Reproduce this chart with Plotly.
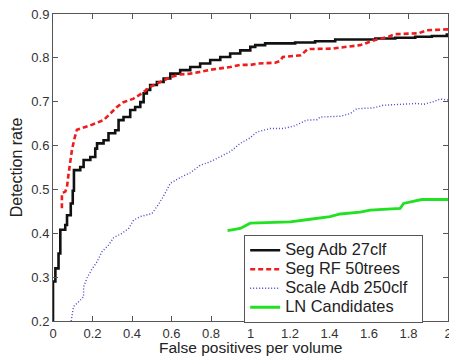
import plotly.graph_objects as go

# ---- data ----
seg_adb_x = [0, 0, 0.012, 0.028, 0.037, 0.062, 0.071, 0.09, 0.1, 0.106, 0.138, 0.155, 0.189, 0.214,
             0.223, 0.256, 0.281, 0.315, 0.332, 0.357, 0.391, 0.416, 0.442, 0.459, 0.475, 0.492, 0.526,
             0.56, 0.594, 0.644, 0.695, 0.745, 0.796, 0.847, 0.897, 0.948, 0.999, 1.024, 1.074, 1.226,
             1.327, 1.429, 1.632, 1.733, 1.834, 1.918, 1.994, 2.0]
seg_adb_y = [0.2, 0.29, 0.32, 0.354, 0.408, 0.419, 0.441, 0.468, 0.497, 0.544, 0.551, 0.567, 0.574, 0.593,
             0.605, 0.612, 0.628, 0.635, 0.658, 0.665, 0.681, 0.688, 0.699, 0.719, 0.727, 0.738, 0.745,
             0.753, 0.764, 0.772, 0.779, 0.787, 0.795, 0.802, 0.81, 0.817, 0.825, 0.829, 0.833, 0.835,
             0.838, 0.842, 0.844, 0.846, 0.848, 0.85, 0.853, 0.853]

seg_rf_x = [0.045, 0.045, 0.062, 0.071, 0.079, 0.096, 0.108, 0.121, 0.189, 0.256, 0.29, 0.324, 0.357,
            0.408, 0.45, 0.492, 0.543, 0.594, 0.644, 0.695, 0.745, 0.796, 0.847, 0.897, 0.948, 1.0,
            1.04, 1.125, 1.15, 1.163, 1.255, 1.29, 1.412, 1.454, 1.496, 1.555, 1.64, 1.699, 1.73,
            1.85, 1.893, 2.0]
seg_rf_y = [0.457, 0.491, 0.495, 0.506, 0.536, 0.59, 0.615, 0.636, 0.646, 0.658, 0.673, 0.688, 0.699,
            0.707, 0.719, 0.734, 0.745, 0.756, 0.762, 0.764, 0.768, 0.773, 0.776, 0.779, 0.784, 0.784,
            0.787, 0.789, 0.793, 0.802, 0.806, 0.82, 0.821, 0.823, 0.825, 0.829, 0.842, 0.848, 0.854,
            0.856, 0.863, 0.865]

scale_adb_x = [0.092, 0.104, 0.13, 0.155, 0.155, 0.172, 0.197, 0.223, 0.248, 0.281, 0.307, 0.349, 0.383,
               0.408, 0.442, 0.501, 0.534, 0.56, 0.594, 0.644, 0.695, 0.745, 0.796, 0.847, 0.897, 0.948,
               0.999, 1.032, 1.1, 1.167, 1.218, 1.285, 1.336, 1.353, 1.454, 1.505, 1.538, 1.622, 1.673,
               1.758, 1.842, 1.876, 1.926, 1.96, 2.0]
scale_adb_y = [0.2, 0.233, 0.244, 0.255, 0.278, 0.298, 0.318, 0.335, 0.358, 0.373, 0.39, 0.4, 0.411,
               0.43, 0.438, 0.445, 0.466, 0.485, 0.514, 0.527, 0.538, 0.555, 0.563, 0.574, 0.586, 0.605,
               0.618, 0.631, 0.639, 0.639, 0.644, 0.658, 0.659, 0.665, 0.667, 0.673, 0.684, 0.686, 0.692,
               0.694, 0.696, 0.694, 0.7, 0.706, 0.704]

ln_x = [0.884, 0.948, 0.999, 1.1, 1.201, 1.302, 1.403, 1.454, 1.555, 1.606, 1.758, 1.775, 1.825, 1.867, 2.0]
ln_y = [0.406, 0.411, 0.423, 0.425, 0.426, 0.432, 0.438, 0.444, 0.448, 0.453, 0.457, 0.468, 0.472, 0.477, 0.477]

names = ["Seg Adb 27clf", "Seg RF 50trees", "Scale Adb 250clf", "LN Candidates"]
x_ticks = [0, 0.2, 0.4, 0.6, 0.8, 1, 1.2, 1.4, 1.6, 1.8, 2]
x_tick_text = ["0", "0.2", "0.4", "0.6", "0.8", "1", "1.2", "1.4", "1.6", "1.8", "2"]
y_ticks = [0.2, 0.3, 0.4, 0.5, 0.6, 0.7, 0.8, 0.9]
y_tick_text = ["0.2", "0.3", "0.4", "0.5", "0.6", "0.7", "0.8", "0.9"]
x_title = "False positives per volume"
y_title = "Detection rate"

FONT = "Liberation Sans, Arial, sans-serif"


def lab(t, pad=""):
    return '<span style="font-size:16.4px">' + t + pad + '</span>'


fig = go.Figure()
fig.add_trace(go.Scatter(x=seg_adb_x, y=seg_adb_y, mode="lines", name=lab(names[0]),
                         line=dict(color="#111111", width=2.6, shape="hv")))
fig.add_trace(go.Scatter(x=seg_rf_x, y=seg_rf_y, mode="lines", name=lab(names[1]),
                         line=dict(color="#ee1c1c", width=2.6, dash="5px,3px")))
fig.add_trace(go.Scatter(x=scale_adb_x, y=scale_adb_y, mode="lines",
                         name=lab(names[2], "\u00a0\u00a0"),
                         line=dict(color="#4646c8", width=1.4, dash="1px,2px")))
fig.add_trace(go.Scatter(x=ln_x, y=ln_y, mode="lines", name=lab(names[3]),
                         line=dict(color="#22e022", width=2.8)))

axis_common = dict(showline=True, linecolor="#555555", linewidth=1, mirror="ticks",
                   ticks="inside", ticklen=5, tickcolor="#555555", showgrid=False, zeroline=False,
                   automargin=False, ticklabeloverflow="allow",
                   tickfont=dict(size=13, color="#333333", family=FONT))

fig.update_xaxes(range=[0, 2], tickvals=x_ticks, ticktext=x_tick_text, **axis_common)
fig.update_yaxes(range=[0.2, 0.9], tickvals=y_ticks, ticktext=y_tick_text,
                 title=dict(text=y_title, standoff=8,
                            font=dict(size=16, color="#222222", family=FONT)), **axis_common)

fig.add_annotation(text=x_title, xref="paper", yref="paper", x=0.5, y=0,
                   xanchor="center", yanchor="top", yshift=-17, borderpad=0, showarrow=False,
                   font=dict(size=15.5, color="#222222", family=FONT))

# the page body adds an 8px offset, so the figure is 8px smaller than the window
fig.update_layout(
    width=449, height=348,
    margin=dict(l=45, r=9, t=6, b=35),
    paper_bgcolor="white", plot_bgcolor="white",
    font=dict(family=FONT, color="#222222"),
    showlegend=True,
    legend=dict(x=0.484, y=0.281, xanchor="left", yanchor="top",
                bgcolor="white", bordercolor="#555555", borderwidth=1,
                font=dict(size=11.3, family=FONT, color="#222222"),
                tracegroupgap=0),
)

fig.write_html("out.html")
